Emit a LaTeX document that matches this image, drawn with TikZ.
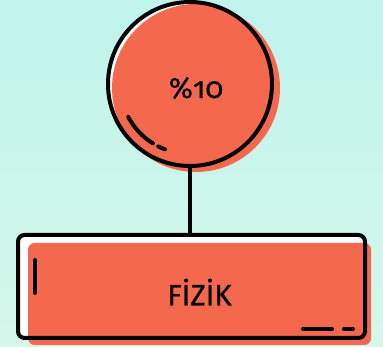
\documentclass[tikz,border=0pt]{standalone}
\usepackage{fontspec}
\setmainfont[Numbers=OldStyle, FakeBold=0.6]{Fira Sans}
\definecolor{coral}{HTML}{F4694D}
\definecolor{mintTop}{HTML}{C0F4EC}
\definecolor{mintBot}{HTML}{D4F7EA}
\begin{document}
\begin{tikzpicture}[x=0.75pt,y=0.75pt,
    outline/.style={draw=black, line width=3pt},
    blob/.style={fill=coral, inner sep=0pt, font=\fontsize{22}{26}\selectfont},
    tick/.style={line width=3pt, line cap=round}]
  \fill[top color=mintTop, bottom color=mintBot] (0,0) rectangle (383,347);
  \fill[white] (190,263) circle (82);
  \node[blob, circle, minimum size=126pt] (pctfill) at (196,259) {\%10};
  \node[outline, circle, minimum size=123pt, inner sep=0pt] (pct) at (190,263) {};
  \fill[white, rounded corners=5pt] (18,112) rectangle (365,9);
  \node[blob, rounded corners=5pt, minimum width=257.25pt, minimum height=76.5pt] (subjfill) at (199.5,53) {\raisebox{3pt}{FİZİK}};
  \node[outline, rounded corners=5pt, minimum width=260.25pt, minimum height=77.25pt] (subj) at (191.5,60.5) {};
  \draw[line width=3pt] (pct.south) -- (pct.south |- subj.north);
  \draw[tick] (pct.center) ++(208:70) arc (208:238:70);
  \draw[tick] (pct.center) ++(243:70) arc (243:249:70);
  \draw[tick] (35,87) -- (35,54);
  \draw[tick] (303,18) -- (332,18);
  \draw[tick] (344,18) -- (353,18);
\end{tikzpicture}
\end{document}
